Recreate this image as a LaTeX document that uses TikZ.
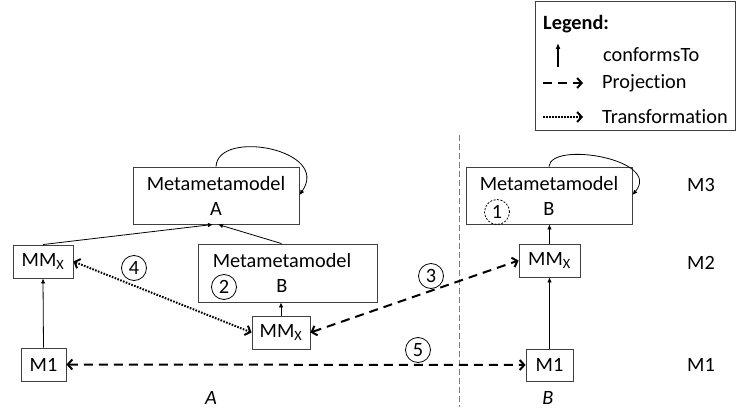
\documentclass[tikz,border=0pt]{standalone}
\usepackage{fontspec}
\setmainfont{Carlito}[Ligatures=NoCommon]
\usetikzlibrary{arrows.meta,calc}
\begin{document}
\begin{tikzpicture}[x=1pt,y=-1pt,
  box/.style={draw=black!75,line width=0.9pt,inner sep=0pt,align=center,
    font=\fontsize{20.3}{25}\selectfont},
  lbl/.style={inner sep=0pt,font=\fontsize{20.3}{24}\selectfont},
  num/.style={circle,draw=black,line width=0.8pt,minimum size=25pt,inner sep=0pt,
    font=\fontsize{20.3}{24}\selectfont},
  conf/.style={line width=0.8pt,-{Latex[length=5pt,width=4.5pt]}},
  proj/.style={line width=2pt,dash pattern=on 9pt off 6pt,
    {Straight Barb[length=4.5pt,width=10pt]}-{Straight Barb[length=4.5pt,width=10pt]}},
  trans/.style={line width=2pt,dash pattern=on 1.6pt off 1.4pt,
    {Straight Barb[length=4.5pt,width=10pt]}-{Straight Barb[length=4.5pt,width=10pt]}},
  loopa/.style={line width=0.8pt,-{Latex[length=5pt,width=4.5pt]}}
]
\useasboundingbox (0,0) rectangle (736,409);

% legend
\node[draw=black!75,line width=0.9pt,minimum width=200pt,minimum height=129pt,inner sep=0pt] (legend) at (635,65.5) {};
\node[lbl,anchor=west,font=\fontsize{20.3}{24}\selectfont\bfseries] (legtitle) at (543,24) {Legend:};
\coordinate (lc1) at (558,67);
\coordinate (lc2) at (558,43);
\draw[line width=1.2pt,-{Latex[length=6pt,width=5pt]}] (lc1) -- (lc2);
\node[lbl,anchor=west] (lconf) at (603,55) {conformsTo};
\coordinate (lp1) at (543,83);
\coordinate (lp2) at (583,83);
\draw[line width=2pt,dash pattern=on 9pt off 6pt,-{Straight Barb[length=4.5pt,width=10pt]}] (lp1) -- (lp2);
\node[lbl,anchor=west] (lproj) at (602,83) {Projection};
\coordinate (lt1) at (543,117);
\coordinate (lt2) at (583,117);
\draw[line width=2pt,dash pattern=on 1.6pt off 1.4pt,-{Straight Barb[length=4.5pt,width=10pt]}] (lt1) -- (lt2);
\node[lbl,anchor=west] (ltrans) at (602,117) {Transformation};

% separator
\coordinate (s1) at (459,135);
\coordinate (s2) at (459,407);
\draw[black!50,line width=0.9pt,dash pattern=on 6pt off 3pt] (s1) -- (s2);

% left side A
\node[box,minimum width=166pt,minimum height=57pt] (mmA) at (216,195.5) {Metametamodel\\A};
\node[box,minimum width=60pt,minimum height=33pt] (mmxL) at (43,261.5) {MM\textsubscript{X}};
\node[box,minimum width=45pt,minimum height=33pt] (m1L) at (43.5,364.5) {M1};
\node[box,minimum width=179pt,minimum height=58pt] (mmBm) at (287.5,273) {\hspace*{-11pt}Metametamodel\\\hspace*{-11pt}B};
\node[box,minimum width=58pt,minimum height=33pt] (mmxM) at (281,332.5) {MM\textsubscript{X}};

% right side B
\node[box,minimum width=166pt,minimum height=57pt] (mmB) at (549,195.5) {Metametamodel\\B};
\node[box,minimum width=61pt,minimum height=33pt] (mmxR) at (549.5,260.5) {MM\textsubscript{X}};
\node[box,minimum width=47pt,minimum height=32pt] (m1R) at (549.5,365) {M1};

% level labels
\node[lbl] (M3) at (701,185) {M3};
\node[lbl] (M2) at (701,263) {M2};
\node[lbl] (M1) at (701,365) {M1};
\node[lbl,font=\fontsize{20.3}{24}\selectfont\itshape] (labA) at (211,398) {A};
\node[lbl,font=\fontsize{20.3}{24}\selectfont\itshape] (labB) at (548,398) {B};

% numbers
\node[num,dash pattern=on 2pt off 1.5pt] (n1) at (497,212) {1};
\node[num] (n2) at (224,287) {2};
\node[num] (n3) at (431,276) {3};
\node[num] (n4) at (134,268) {4};
\node[num] (n5) at (418,350) {5};

% self loops
\draw[loopa] (mmA.north) .. controls ($(mmA.north)+(2,-38)$) and ($(mmA.east)+(32,-46)$) .. ($(mmA.east)+(0,-0.5)$);
\draw[loopa] (mmB.north) .. controls ($(mmB.north)+(2,-26)$) and ($(mmB.east)+(30,-36)$) .. ($(mmB.east)+(0,-0.5)$);

% conformsTo
\draw[conf] (mmxL.north) -- ($(mmA.south)+(-3,0)$);
\draw[conf] ($(mmBm.north)+(-6,0)$) -- ($(mmA.south)+(2,0)$);
\draw[conf] (m1L.north) -- (mmxL.south);
\draw[conf] (mmxM.north) -- (mmxM.north |- mmBm.south);
\draw[conf] (mmxR.north) -- (mmxR.north |- mmB.south);
\draw[conf] (m1R.north) -- (m1R.north |- mmxR.south);

% projections / transformation
\draw[trans] (mmxL.east) -- (mmxM.west);
\draw[proj] (mmxM.east) -- (mmxR.west);
\draw[proj] (m1L.east) -- (m1R.west);
\end{tikzpicture}
\end{document}
